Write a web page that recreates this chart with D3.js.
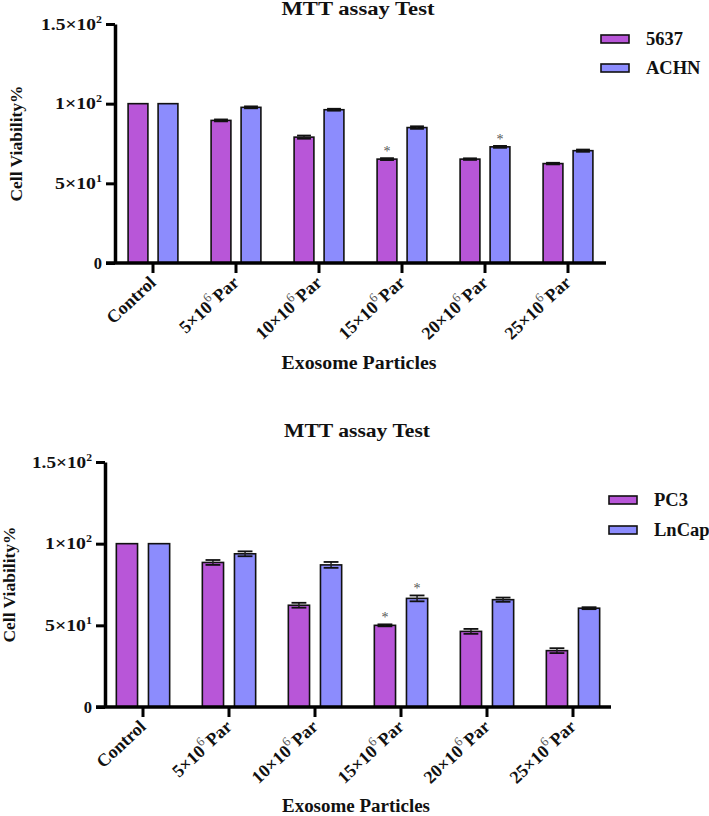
<!DOCTYPE html>
<html><head><meta charset="utf-8">
<script src="https://cdn.jsdelivr.net/npm/d3@7"></script>
<style>html,body{margin:0;padding:0;background:#fff;} svg{display:block;} text{font-family:"Liberation Serif","Times New Roman",serif;font-weight:bold;}</style>
</head><body>
<svg id="chart" width="709" height="816"></svg>
<script>
// ---- data ----
const categories = ["Control", "5×10^6 Par", "10×10^6 Par", "15×10^6 Par", "20×10^6 Par", "25×10^6 Par"];
const yTicks = [0, 50, 100, 150];
const yTickLabels = [["0", ""], ["5×10", "1"], ["1×10", "2"], ["1.5×10", "2"]];

const series5637 = [100, 89.5, 79, 65.2, 65.2, 62.4];
const err5637 = [0, 0.6, 1.0, 0.6, 0.5, 0.5];
const sig5637 = [0, 0, 0, 1, 0, 0];
const seriesACHN = [100, 97.7, 96.2, 85, 72.9, 70.5];
const errACHN = [0, 0.6, 0.6, 0.8, 0.6, 0.7];
const sigACHN = [0, 0, 0, 0, 1, 0];

const seriesPC3 = [100, 88.5, 62.3, 50, 46.3, 34.5];
const errPC3 = [0, 1.5, 1.5, 0.6, 1.5, 1.5];
const sigPC3 = [0, 0, 0, 1, 0, 0];
const seriesLnCap = [100, 93.8, 87, 66.5, 65.7, 60.5];
const errLnCap = [0, 1.5, 1.8, 1.8, 1.3, 0.6];
const sigLnCap = [0, 0, 0, 1, 0, 0];

const colors = ["#B856D8", "#8C8CFD"];

const svg = d3.select("#chart");

function drawChart(cfg) {
  const g = svg.append("g");
  const y = d3.scaleLinear().domain([0, 150]).range([cfg.y0, cfg.y150]);
  const x0 = d3.scaleBand().domain(categories).range(cfg.xRange).paddingInner(cfg.pad).paddingOuter(cfg.pad / 2);
  const x1 = d3.scaleBand().domain([0, 1]).range([0, x0.bandwidth()]).paddingInner(cfg.innerPad);

  const data = categories.map((c, i) => ({
    cat: c,
    vals: cfg.series.map((s, k) => ({k, v: s.values[i], e: s.err[i], sig: s.sig[i]}))
  }));

  // bars
  const grp = g.selectAll("g.grp").data(data).join("g")
    .attr("transform", d => `translate(${x0(d.cat)},0)`);
  grp.selectAll("rect").data(d => d.vals).join("rect")
    .attr("x", d => x1(d.k))
    .attr("y", d => y(d.v))
    .attr("width", x1.bandwidth())
    .attr("height", d => y(0) - y(d.v))
    .attr("fill", d => colors[d.k])
    .attr("stroke", "#111").attr("stroke-width", 1.6);

  // error bars
  const eb = grp.selectAll("g.err").data(d => d.vals.filter(v => v.e > 0)).join("g");
  const capW = x1.bandwidth() * 0.35;
  eb.append("line")
    .attr("x1", d => x1(d.k) + x1.bandwidth() / 2).attr("x2", d => x1(d.k) + x1.bandwidth() / 2)
    .attr("y1", d => y(d.v + d.e)).attr("y2", d => y(d.v - d.e))
    .attr("stroke", "#222").attr("stroke-width", 1.5);
  eb.selectAll("line.cap").data(d => [{k: d.k, yy: d.v + d.e}, {k: d.k, yy: d.v - d.e}]).join("line")
    .attr("x1", d => x1(d.k) + x1.bandwidth() / 2 - capW).attr("x2", d => x1(d.k) + x1.bandwidth() / 2 + capW)
    .attr("y1", d => y(d.yy)).attr("y2", d => y(d.yy))
    .attr("stroke", "#111").attr("stroke-width", 1.8);

  // significance stars
  grp.selectAll("text.star").data(d => d.vals.filter(v => v.sig)).join("text")
    .attr("x", d => x1(d.k) + x1.bandwidth() / 2)
    .attr("y", d => y(d.v + d.e) - 2)
    .attr("text-anchor", "middle").attr("font-size", 14).style("font-weight", "normal")
    .attr("fill", "#555").text("*");

  // y axis
  const yAxis = g.append("g").attr("transform", `translate(${cfg.axisX},0)`)
    .call(d3.axisLeft(y).tickValues(yTicks).tickSize(9).tickSizeOuter(0).tickFormat(""));
  yAxis.select(".domain").attr("stroke", "#000").attr("stroke-width", 3.5);
  yAxis.selectAll(".tick line").attr("stroke", "#000").attr("stroke-width", 3);
  yTicks.forEach((t, i) => {
    const lab = yTickLabels[i];
    const tx = g.append("text").attr("x", cfg.axisX - 13).attr("y", y(t) + 5.5)
      .attr("text-anchor", "end").attr("font-size", 16.5).attr("fill", "#111");
    tx.append("tspan").text(lab[0]);
    if (lab[1]) tx.append("tspan").attr("font-size", 10).attr("dy", -7).text(lab[1]);
    if (lab[1]) tx.attr("textLength", cfg.tickLen[i]).attr("lengthAdjust", "spacingAndGlyphs");
  });

  // x axis
  g.append("line").attr("x1", cfg.axisX - 9).attr("x2", cfg.axisEnd)
    .attr("y1", y(0)).attr("y2", y(0)).attr("stroke", "#000").attr("stroke-width", 3.5);
  const xAxis = g.append("g").attr("transform", `translate(0,${y(0)})`)
    .call(d3.axisBottom(x0).tickSize(10).tickSizeOuter(0).tickFormat(""));
  xAxis.select(".domain").remove();
  xAxis.selectAll(".tick line").attr("stroke", "#000").attr("stroke-width", 3);

  categories.forEach(c => {
    const cx = x0(c) + x0.bandwidth() / 2 + 4;
    const cy = y(0) + 21;
    const t = g.append("text").attr("transform", `translate(${cx},${cy}) rotate(-43)`)
      .attr("text-anchor", "end").attr("font-size", 18).attr("fill", "#111");
    const m = c.match(/^(.*)\^(\d+) ?(.*)$/);
    if (m) {
      t.append("tspan").text(m[1]);
      t.append("tspan").attr("font-size", 13).style("font-weight", "normal").attr("fill", "#555").attr("dy", -8).text(m[2]);
      t.append("tspan").attr("dy", 8).attr("dx", 2).text(m[3]);
    } else t.text(c);
  });

  // titles
  g.append("text").attr("x", cfg.titleX).attr("y", cfg.titleY).attr("text-anchor", "middle")
    .attr("font-size", 18.5).attr("fill", "#111").attr("textLength", cfg.titleLen).attr("lengthAdjust", "spacingAndGlyphs")
    .text("MTT assay Test");
  g.append("text").attr("x", cfg.xlabX).attr("y", cfg.xlabY).attr("text-anchor", "middle")
    .attr("font-size", 18).attr("fill", "#111").attr("textLength", cfg.xlabLen).attr("lengthAdjust", "spacingAndGlyphs")
    .text("Exosome Particles");
  g.append("text").attr("transform", `translate(${cfg.ylabX},${(y(0) + y(150)) / 2}) rotate(-90)`)
    .attr("text-anchor", "middle").attr("font-size", 17.5).attr("fill", "#111")
    .text("Cell Viability%");

  // legend
  cfg.series.forEach((s, k) => {
    const ly = cfg.legY + k * cfg.legStep;
    g.append("rect").attr("x", cfg.legX).attr("y", ly).attr("width", 28).attr("height", 8)
      .attr("fill", colors[k]).attr("stroke", "#111").attr("stroke-width", 1.6);
    g.append("text").attr("x", cfg.legX + 45).attr("y", ly + 10).attr("font-size", 18.5).attr("fill", "#111")
      .text(s.name);
  });
}

drawChart({
  y0: 263, y150: 24, axisX: 115, axisEnd: 606, xRange: [111.5, 609.5], pad: 0.4, innerPad: 0.34,
  tickLen: [0, 47, 47, 61],
  titleX: 358, titleY: 15, titleLen: 153,
  xlabX: 359, xlabY: 369, xlabLen: 155,
  ylabX: 22,
  legX: 601, legY: 35, legStep: 29,
  series: [
    {name: "5637", values: series5637, err: err5637, sig: sig5637},
    {name: "ACHN", values: seriesACHN, err: errACHN, sig: sigACHN}
  ]
});

drawChart({
  y0: 707, y150: 462, axisX: 105, axisEnd: 611, xRange: [100, 616], pad: 0.38, innerPad: 0.34,
  tickLen: [0, 47, 47, 60],
  titleX: 357, titleY: 437, titleLen: 146,
  xlabX: 356, xlabY: 812, xlabLen: 148,
  ylabX: 15,
  legX: 609, legY: 496, legStep: 30,
  series: [
    {name: "PC3", values: seriesPC3, err: errPC3, sig: sigPC3},
    {name: "LnCap", values: seriesLnCap, err: errLnCap, sig: sigLnCap}
  ]
});
</script>
</body></html>
